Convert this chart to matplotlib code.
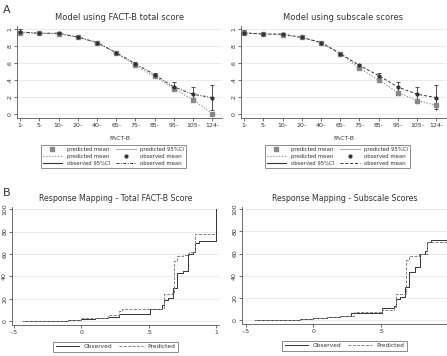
import matplotlib
matplotlib.use("Agg")
import matplotlib.pyplot as plt
from matplotlib.lines import Line2D
import numpy as np

categories = ["1-", "5-", "10-", "20-", "40-", "65-", "75-", "85-", "95-", "105-", "124-"]

# Panel A, left: FACT-B total score
obs_mean_L = [0.965, 0.95, 0.95, 0.905, 0.84, 0.72, 0.59, 0.46, 0.315, 0.23, 0.19]
obs_lo_L = [0.935, 0.94, 0.94, 0.895, 0.83, 0.71, 0.57, 0.44, 0.28, 0.15, 0.05]
obs_hi_L = [0.995, 0.96, 0.96, 0.915, 0.85, 0.73, 0.61, 0.48, 0.37, 0.32, 0.34]
pred_mean_L = [0.955, 0.95, 0.94, 0.905, 0.84, 0.715, 0.57, 0.44, 0.295, 0.165, 0.0]

# Panel A, right: subscale scores
obs_mean_R = [0.955, 0.94, 0.94, 0.90, 0.84, 0.71, 0.57, 0.45, 0.315, 0.23, 0.19]
obs_lo_R = [0.925, 0.93, 0.93, 0.89, 0.83, 0.70, 0.55, 0.42, 0.27, 0.15, 0.06]
obs_hi_R = [0.985, 0.95, 0.95, 0.91, 0.85, 0.72, 0.59, 0.48, 0.37, 0.31, 0.34]
pred_mean_R = [0.95, 0.94, 0.93, 0.90, 0.84, 0.71, 0.535, 0.40, 0.25, 0.155, 0.10]
pred_lo_R = [0.94, 0.93, 0.92, 0.89, 0.83, 0.70, 0.52, 0.38, 0.22, 0.11, 0.03]
pred_hi_R = [0.96, 0.95, 0.94, 0.91, 0.85, 0.72, 0.55, 0.42, 0.28, 0.20, 0.17]

# Panel B, left: response mapping total FACT-B
bl_obs_x = [-0.43, -0.25, -0.1, 0.0, 0.1, 0.2, 0.28, 0.4, 0.51, 0.6, 0.615, 0.64, 0.68, 0.71, 0.75, 0.79, 0.83, 0.845, 0.87, 1.0, 1.0]
bl_obs_y = [0, 0.3, 0.8, 1.5, 2.5, 4, 6, 6.5, 11, 14, 19, 21, 30, 43, 45, 60, 62, 70, 72, 72, 100]
bl_pred_x = [-0.43, -0.25, -0.1, 0.0, 0.05, 0.2, 0.28, 0.3, 0.6, 0.615, 0.675, 0.685, 0.71, 0.75, 0.8, 0.845, 1.0]
bl_pred_y = [0, 0.3, 1.0, 2.5, 2.5, 5, 9, 11, 12, 24, 25, 54, 58, 59, 62, 78, 78]

# Panel B, right: response mapping subscale scores
br_obs_x = [-0.43, -0.25, -0.1, 0.0, 0.1, 0.2, 0.28, 0.4, 0.51, 0.6, 0.615, 0.64, 0.68, 0.71, 0.75, 0.79, 0.83, 0.845, 0.87, 1.0]
br_obs_y = [0, 0.3, 0.8, 1.5, 2.5, 4, 6, 6.5, 11, 13, 19, 21, 30, 43, 48, 60, 62, 70, 72, 72]
br_pred_x = [-0.43, -0.25, -0.1, 0.0, 0.1, 0.2, 0.3, 0.4, 0.51, 0.6, 0.615, 0.675, 0.685, 0.71, 0.78, 0.84, 1.0]
br_pred_y = [0, 0.3, 0.8, 1.5, 2.5, 4, 7, 7.5, 9, 12, 24, 24, 54, 58, 60, 70, 70]

OBS = "#333333"
PRED = "#808080"
GRID = "#e6e6e6"
TS = 4.5

fig = plt.figure(figsize=(4.47, 3.56), dpi=100)
plt.rcParams['font.family'] = ['DejaVu Sans']


def style_axes(ax):
    for s in ["top", "right"]:
        ax.spines[s].set_visible(False)
    for s in ["left", "bottom"]:
        ax.spines[s].set_color("#555555")
        ax.spines[s].set_linewidth(0.6)
    ax.tick_params(axis="both", labelsize=TS, length=2, width=0.5, colors="#333333", pad=1.5)
    for lab in ax.get_yticklabels():
        lab.set_rotation(90)
        lab.set_va("center")
    ax.grid(axis="y", color=GRID, linewidth=0.6)
    ax.set_axisbelow(True)


def panel_a(rect, title, om, olo, ohi, pm, plo, phi, obs_ls):
    ax = fig.add_axes(rect)
    xs = np.arange(len(categories))
    if plo is not None:
        ax.vlines(xs, plo, phi, color="#b0b0b0", linewidth=0.6)
    ax.errorbar(xs, om, yerr=[np.array(om) - np.array(olo), np.array(ohi) - np.array(om)],
                fmt="none", ecolor=OBS, elinewidth=0.6, capsize=1.5, capthick=0.6)
    ax.plot(xs, pm, linestyle=":", color=PRED, linewidth=0.8)
    ax.plot(xs, om, linestyle=obs_ls, color=OBS, linewidth=0.7)
    ax.plot(xs, pm, linestyle="none", marker="s", markersize=2.2, color="#888888")
    ax.plot(xs, om, linestyle="none", marker="o", markersize=2.0, color=OBS)
    ax.set_xlim(-0.16, 10.5)
    ax.set_ylim(-0.05, 1.035)
    ax.set_xticks(xs)
    ax.set_xticklabels(categories)
    ax.set_yticks([0, 0.2, 0.4, 0.6, 0.8, 1.0])
    ax.set_yticklabels(["0", ".2", ".4", ".6", ".8", "1"])
    ax.set_title(title, fontsize=6, color="#333333", pad=4)
    ax.set_xlabel("FACT-B", fontsize=TS, color="#333333", labelpad=6)
    style_axes(ax)
    handles = [
        Line2D([], [], linestyle="none", marker="s", markersize=2.2, color="#888888"),
        Line2D([], [], linestyle=":", color=PRED, linewidth=0.8),
        Line2D([], [], color=OBS, linewidth=0.8),
        Line2D([], [], color="#b0b0b0", linewidth=0.8),
        Line2D([], [], linestyle="none", marker="o", markersize=2.0, color=OBS),
        Line2D([], [], linestyle=obs_ls, color=OBS, linewidth=0.7),
    ]
    labels = ["predicted mean", "predicted mean", "observed 95%CI",
              "predicted 95%CI", "observed mean", "observed mean"]
    leg = ax.legend(handles, labels, ncol=2, loc="upper center", bbox_to_anchor=(0.47, -0.265),
                    fontsize=3.9, frameon=True, fancybox=False, edgecolor="#555555",
                    handlelength=3.6, columnspacing=1.2, labelspacing=0.3, borderpad=0.4,
                    handletextpad=0.8)
    leg.get_frame().set_linewidth(0.6)
    for t in leg.get_texts():
        t.set_color("#333333")
    return ax


def panel_b(rect, title, ox, oy, px, py, xlim, xt, xtl):
    ax = fig.add_axes(rect)
    ax.step(ox, oy, where="post", color=OBS, linewidth=0.7, label="Observed")
    ax.step(px, py, where="post", color=PRED, linewidth=0.7, linestyle=(0, (3, 1.5)), label="Predicted")
    ax.set_xlim(*xlim)
    ax.set_ylim(-3.5, 102)
    ax.set_xticks(xt)
    ax.set_xticklabels(xtl)
    ax.set_yticks([0, 20, 40, 60, 80, 100])
    ax.set_title(title, fontsize=5.7, color="#333333", pad=4)
    style_axes(ax)
    leg = ax.legend(ncol=2, loc="upper center", bbox_to_anchor=(0.5, -0.12), fontsize=4.2,
                    frameon=True, fancybox=False, edgecolor="#555555", handlelength=4,
                    columnspacing=1.2, borderpad=0.4, handletextpad=0.8)
    leg.get_frame().set_linewidth(0.6)
    for t in leg.get_texts():
        t.set_color("#333333")
    return ax


panel_a([17 / 447, 1 - 118 / 356, 205 / 447, 92 / 356], "Model using FACT-B total score",
        obs_mean_L, obs_lo_L, obs_hi_L, pred_mean_L, None, None, (0, (3, 1.5, 1, 1.5)))
panel_a([241 / 447, 1 - 118 / 356, 205 / 447, 92 / 356], "Model using subscale scores",
        obs_mean_R, obs_lo_R, obs_hi_R, pred_mean_R, pred_lo_R, pred_hi_R, (0, (3, 2)))

panel_b([12 / 447, 1 - 325 / 356, 207 / 447, 118 / 356], "Response Mapping - Total FACT-B Score",
        bl_obs_x, bl_obs_y, bl_pred_x, bl_pred_y, (-0.515, 1.02),
        [-0.5, 0, 0.5, 1.0], ["-.5", "0", ".5", "1"])
panel_b([242 / 447, 1 - 324 / 356, 205 / 447, 117 / 356], "Response Mapping - Subscale Scores",
        br_obs_x, br_obs_y, br_pred_x, br_pred_y, (-0.53, 0.99),
        [-0.5, 0, 0.5], ["-.5", "0", ".5"])

fig.text(3 / 447, 1 - 10 / 356, "A", fontsize=8, color="#333333", va="center")
fig.text(3 / 447, 1 - 193 / 356, "B", fontsize=8, color="#333333", va="center")

fig.savefig("out.png", dpi=100, facecolor="white")
